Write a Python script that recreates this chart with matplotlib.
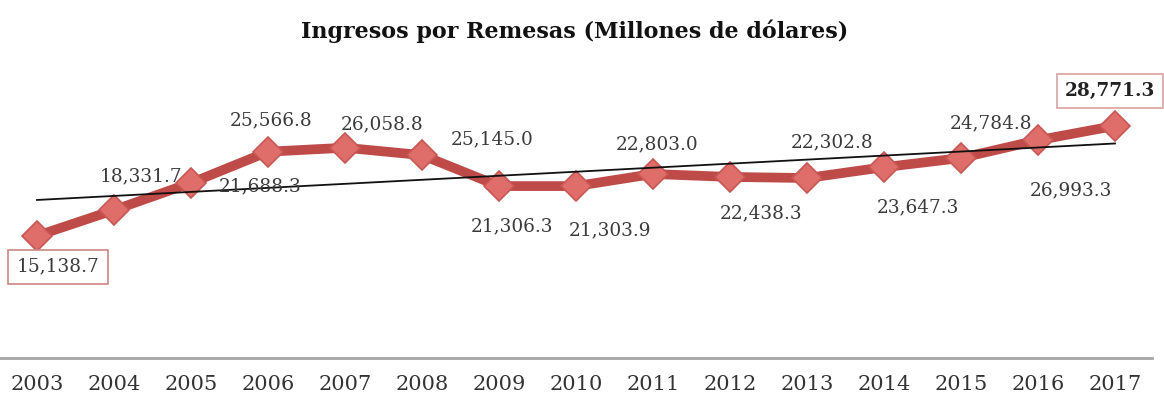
import numpy as np
import matplotlib
matplotlib.use('Agg')
import matplotlib.pyplot as plt

# data
years = ['2003', '2004', '2005', '2006', '2007', '2008', '2009', '2010',
         '2011', '2012', '2013', '2014', '2015', '2016', '2017']
remesas = [15138.7, 18331.7, 21688.3, 25566.8, 26058.8, 25145.0, 21306.3, 21303.9,
           22803.0, 22438.3, 22302.8, 23647.3, 24784.8, 26993.3, 28771.3]

# label offsets in pixels (dx, dy up) -- layout only
label_offsets = [(21, -31), (27, 34), (69, -3), (3, 31), (37, 23), (70, 16), (13, -40),
                 (34, -44), (4, 30), (31, -36), (25, 36), (34, -40), (30, 35), (33, -50),
                 (-5, 35)]

plt.rcParams['font.family'] = ['DejaVu Serif']

fig = plt.figure(figsize=(11.64, 4.01), dpi=100)
ax = fig.add_axes([0.0, 1 - 358 / 401, 1152 / 1164, 37000 / 123.93 / 401])

x = np.arange(len(years))
ax.plot(x, remesas, color='#BE4B48', lw=7, solid_capstyle='round', zorder=2)
ax.plot(x, remesas, ls='none', marker='D', ms=15, mfc='#DF6E6A', mec='#C85652', mew=1.2, zorder=3)

# linear trend
k, b = np.polyfit(x, remesas, 1)
ax.plot(x, k * x + b, color='#111111', lw=1.3, zorder=4)

for i, (v, off) in enumerate(zip(remesas, label_offsets)):
    txt = f'{v:,.1f}'
    kw = dict(ha='center', va='center', fontsize=13.3, color='#3a3a3a',
              textcoords='offset pixels', xytext=off, zorder=5)
    if i == 0:
        kw['bbox'] = dict(boxstyle='square,pad=0.45', fc='white', ec='#C98784', lw=1.2)
    if i == len(remesas) - 1:
        kw['bbox'] = dict(boxstyle='square,pad=0.45', fc='white', ec='#D9A3A1', lw=1.2)
        kw['fontweight'] = 'bold'
        kw['color'] = '#222222'
    ax.annotate(txt, (i, v), **kw)

ax.set_xlim(-0.48, 14.48)
ax.set_ylim(0, 37000)
ax.set_xticks(x)
ax.set_xticklabels(years, fontsize=15, color='#333333')
ax.tick_params(axis='x', length=0, pad=12)
ax.set_yticks([])
for s in ['top', 'right', 'left']:
    ax.spines[s].set_visible(False)
ax.spines['bottom'].set_color('#A6A6A6')
ax.spines['bottom'].set_linewidth(2)

fig.text(0.494, 1 - 31 / 401, 'Ingresos por Remesas (Millones de dólares)', ha='center', va='center',
         fontsize=16, fontweight='bold', color='#111111')

fig.savefig('out.png', dpi=100)
